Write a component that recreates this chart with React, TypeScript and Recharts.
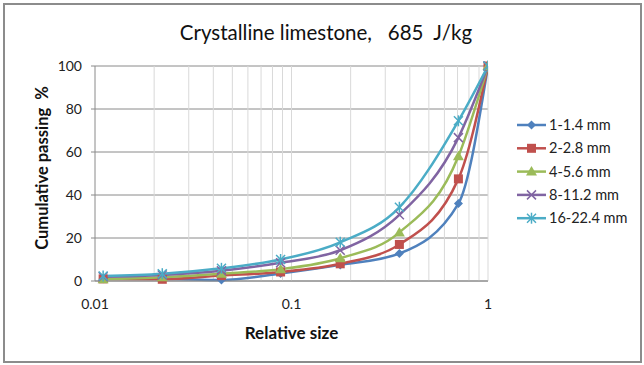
import React from "react";
import { LineChart, Line, XAxis, YAxis, CartesianGrid, ReferenceLine } from "recharts";

// Relative particle size (log scale, sqrt(2) sieve series)
const relativeSize = [0.011, 0.022, 0.044, 0.088, 0.177, 0.354, 0.707, 1];

// Cumulative passing (%) for each initial size fraction
const passing1to14 = [1, 1, 0.5, 3.5, 7.5, 12.8, 36, 100];
const passing2to28 = [1, 0.8, 2.5, 4.2, 8, 17, 47.5, 100];
const passing4to56 = [0.8, 1.8, 3.4, 5.5, 10.6, 22.6, 58, 100];
const passing8to112 = [2, 2.8, 4.8, 8.5, 14.3, 30.8, 66.7, 100];
const passing16to224 = [2.3, 3.4, 5.9, 10, 18, 34.3, 74.5, 100];

const seriesNames = ["1-1.4 mm", "2-2.8 mm", "4-5.6 mm", "8-11.2 mm", "16-22.4 mm"];
const seriesColors = ["#4F81BD", "#C0504D", "#9BBB59", "#8064A2", "#4BACC6"];
const seriesMarkers = ["diamond", "square", "triangle", "cross", "star"];
const seriesValues = [passing1to14, passing2to28, passing4to56, passing8to112, passing16to224];

const xTicks = [0.01, 0.1, 1];
const yTicks = [0, 20, 40, 60, 80, 100];
const minorX = [0.02, 0.03, 0.04, 0.05, 0.06, 0.07, 0.08, 0.09, 0.1, 0.2, 0.3, 0.4, 0.5, 0.6, 0.7, 0.8, 0.9, 1];

const titleText = "Crystalline limestone,   685  J/kg";
const xTitle = "Relative size";
const yTitle = "Cumulative passing  %";

const rows = relativeSize.map((x, i) => {
  const row: Record<string, number> = { x };
  seriesValues.forEach((vals, s) => {
    row["s" + s] = vals[i];
  });
  return row;
});

const FONT = "Lato, 'Open Sans', sans-serif";

function Marker({ kind, cx, cy, color }: { kind: string; cx: number; cy: number; color: string }) {
  if (kind === "diamond") {
    const r = 4.5;
    return <polygon points={`${cx},${cy - r} ${cx + r},${cy} ${cx},${cy + r} ${cx - r},${cy}`} fill={color} />;
  }
  if (kind === "square") {
    return <rect x={cx - 4.5} y={cy - 4.5} width={9} height={9} fill={color} />;
  }
  if (kind === "triangle") {
    return <polygon points={`${cx},${cy - 5.5} ${cx + 5.5},${cy + 4} ${cx - 5.5},${cy + 4}`} fill={color} />;
  }
  const r = 4.5;
  return (
    <g stroke={color} strokeWidth={1.5}>
      <line x1={cx - r} y1={cy - r} x2={cx + r} y2={cy + r} />
      <line x1={cx - r} y1={cy + r} x2={cx + r} y2={cy - r} />
      {kind === "star" && <line x1={cx} y1={cy - r - 1} x2={cx} y2={cy + r + 1} />}
    </g>
  );
}

export default function App() {
  return (
    <div style={{ position: "absolute", left: 0, top: 0, width: 644, height: 365, background: "#fff", fontFamily: FONT }}>
      <LineChart
        width={644}
        height={365}
        data={rows}
        margin={{ top: 66, right: 156, bottom: 54, left: 55 }}
      >
        <CartesianGrid vertical={false} stroke="#8a8a8a" strokeWidth={1} />
        {minorX.map((v) => (
          <ReferenceLine key={v} x={v} stroke="#d9d9d9" strokeWidth={1} />
        ))}
        <XAxis
          dataKey="x"
          type="number"
          scale="log"
          domain={[0.01, 1]}
          ticks={xTicks}
          allowDataOverflow
          height={30}
          axisLine={{ stroke: "#8a8a8a" }}
          tickLine={false}
          tickMargin={12}
          tick={{ fill: "#222", fontSize: 14, fontFamily: FONT }}
          tickFormatter={(v: number) => String(v)}
        />
        <YAxis
          type="number"
          domain={[0, 100]}
          ticks={yTicks}
          width={40}
          axisLine={{ stroke: "#8a8a8a" }}
          tickLine={{ stroke: "#8a8a8a" }}
          tickSize={4}
          tickMargin={9}
          tick={{ fill: "#222", fontSize: 14, fontFamily: FONT }}
        />
        {seriesNames.map((name, s) => (
          <Line
            key={name}
            name={name}
            dataKey={"s" + s}
            type="monotone"
            stroke={seriesColors[s]}
            strokeWidth={2.5}
            isAnimationActive={false}
            dot={(p: any) => (
              <Marker key={p.index} kind={seriesMarkers[s]} cx={p.cx} cy={p.cy} color={seriesColors[s]} />
            )}
            activeDot={false}
          />
        ))}
      </LineChart>

      {/* title */}
      <div style={{ position: "absolute", left: 0, width: 652, top: 20, textAlign: "center", fontSize: 20.5, color: "#111", whiteSpace: "pre" }}>
        {titleText}
      </div>
      {/* x axis title */}
      <div style={{ position: "absolute", left: 95, width: 393, top: 322, textAlign: "center", fontSize: 17, fontWeight: 700, color: "#111" }}>
        {xTitle}
      </div>
      {/* y axis title */}
      <div
        style={{
          position: "absolute",
          left: 42,
          top: 168,
          transform: "translate(-50%, -50%) rotate(-90deg)",
          whiteSpace: "pre",
          fontSize: 16.5,
          fontWeight: 700,
          color: "#111",
        }}
      >
        {yTitle}
      </div>
      {/* legend */}
      <svg style={{ position: "absolute", left: 510, top: 110 }} width={134} height={120}>
        {seriesNames.map((name, s) => {
          const cy = 15 + s * 23.3;
          return (
            <g key={name}>
              <line x1={7} y1={cy} x2={36} y2={cy} stroke={seriesColors[s]} strokeWidth={2.5} />
              <Marker kind={seriesMarkers[s]} cx={21.5} cy={cy} color={seriesColors[s]} />
              <text x={39} y={cy} dy="0.35em" fontSize={14.5} fontFamily={FONT} fill="#222">
                {name}
              </text>
            </g>
          );
        })}
      </svg>
      {/* outer frame */}
      <div
        style={{
          position: "absolute",
          left: 3,
          top: 3,
          width: 635,
          height: 356,
          border: "2px solid #8c8c8c",
          pointerEvents: "none",
        }}
      />
    </div>
  );
}
